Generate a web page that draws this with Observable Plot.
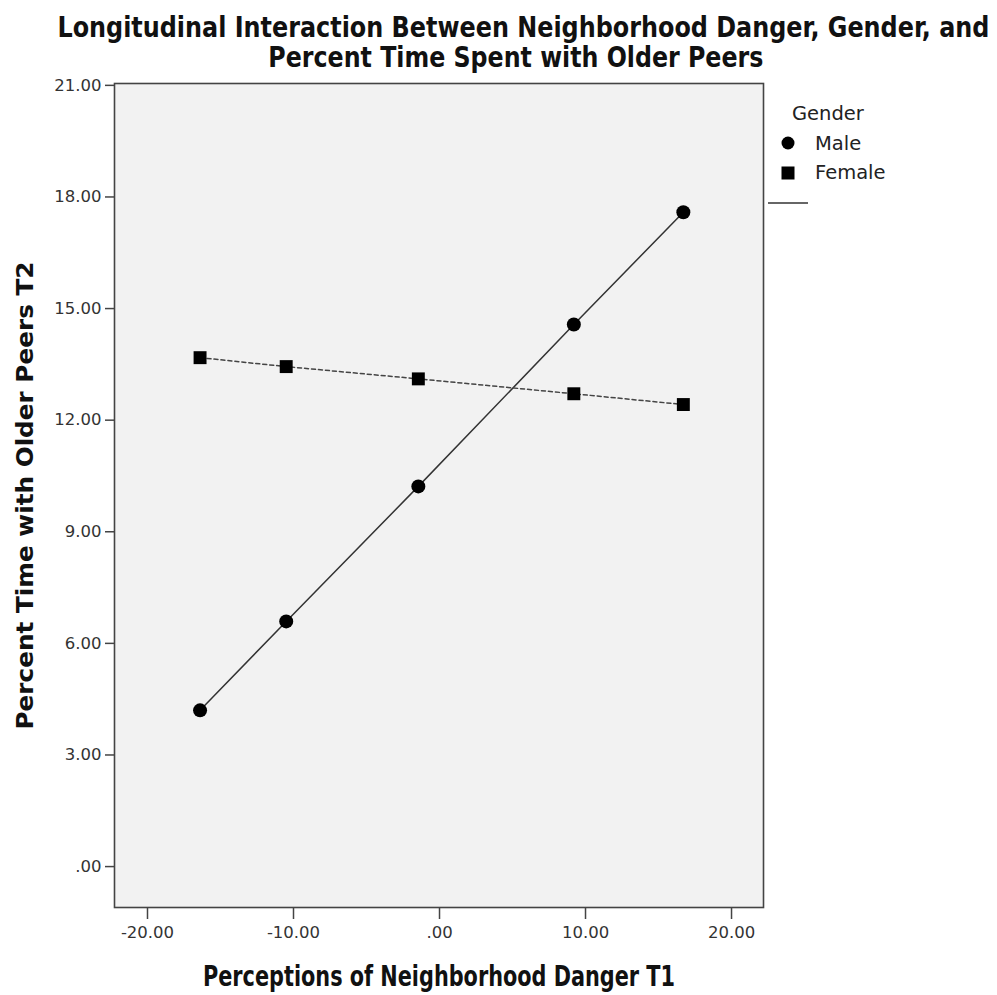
<!DOCTYPE html>
<html>
<head>
<meta charset="utf-8">
<script src="https://cdn.jsdelivr.net/npm/d3@7"></script>
<script src="https://cdn.jsdelivr.net/npm/@observablehq/plot@0.6"></script>
<style>
  html, body { margin: 0; padding: 0; background: #fff; }
  #wrap { position: relative; width: 997px; height: 995px; overflow: hidden; }
  #title { height: 70px; position: relative; font-family: "DejaVu Sans Condensed", "DejaVu Sans", sans-serif;
    font-weight: bold; font-size: 28px; color: #111; }
  #title .line { position: absolute; width: 2000px; text-align: center; white-space: nowrap; line-height: 28px; height: 28px; }
  #title .line span { display: inline-block; transform-origin: center; }
  #legend { position: absolute; left: 0; top: 0; width: 997px; height: 995px; pointer-events: none;
    font-family: "DejaVu Sans", sans-serif; color: #222; }
  #legend .t { position: absolute; font-size: 19.5px; line-height: 20px; white-space: nowrap; transform: translateY(-50%); }
  svg { display: block; }
</style>
</head>
<body>
<div id="wrap">
  <div id="title"></div>
  <div id="chart"></div>
  <div id="legend"></div>
</div>
<script>
// ---- data ----
const titleLines = ["Longitudinal Interaction Between Neighborhood Danger, Gender, and", "Percent Time Spent with Older Peers"];
const xLabel = "Perceptions of Neighborhood Danger T1";
const yLabel = "Percent Time with Older Peers T2";
const legendTitle = "Gender";
const genders = ["Male", "Female"];
const dangerX = [-16.4, -10.5, -1.45, 9.2, 16.7];
const maleY = [4.2, 6.59, 10.22, 14.57, 17.59];
const femaleY = [13.68, 13.44, 13.11, 12.71, 12.42];
const xTicks = [-20, -10, 0, 10, 20];
const yTicks = [0, 3, 6, 9, 12, 15, 18, 21];

const rows = [];
dangerX.forEach((x, i) => rows.push({gender: "Male", x, y: maleY[i]}));
dangerX.forEach((x, i) => rows.push({gender: "Female", x, y: femaleY[i]}));
const male = rows.filter(d => d.gender === "Male");
const female = rows.filter(d => d.gender === "Female");

// ---- title (condensed look: fit each line to the reference width) ----
const titleEl = document.getElementById("title");
const titleSpec = [{top: 14, width: 932, center: 523}, {top: 44, width: 495, center: 516}];
titleLines.forEach((t, i) => {
  const line = document.createElement("div");
  line.className = "line";
  line.style.top = titleSpec[i].top + "px";
  line.style.left = (titleSpec[i].center - 1000) + "px";
  const sp = document.createElement("span");
  sp.textContent = t;
  line.appendChild(sp);
  titleEl.appendChild(line);
  const w = sp.getBoundingClientRect().width;
  sp.style.transform = `scaleX(${titleSpec[i].width / w})`;
});

const fmt = d => d === 0 ? ".00" : d.toFixed(2);

const plot = Plot.plot({
  width: 997,
  height: 925,
  marginLeft: 114,
  marginRight: 234,
  marginTop: 13,
  marginBottom: 88,
  style: {fontFamily: "DejaVu Sans, sans-serif", fontSize: "16.5px", color: "#333", background: "white"},
  x: {domain: [-22.26, 22.19]},
  y: {domain: [-1.1, 21.05]},
  marks: [
    Plot.frame({fill: "#f2f2f2", stroke: null}),
    Plot.line(male, {x: "x", y: "y", stroke: "#333", strokeWidth: 1.5}),
    Plot.line(female, {x: "x", y: "y", stroke: "#444", strokeWidth: 1.5, strokeDasharray: "4,3"}),
    Plot.dot(male, {x: "x", y: "y", r: 7, symbol: "circle", fill: "#000", stroke: null}),
    Plot.dot(female, {x: "x", y: "y", r: 7.3, symbol: "square", fill: "#000", stroke: null}),
    Plot.frame({stroke: "#444", strokeWidth: 1.6}),
    Plot.axisX({ticks: xTicks, tickFormat: fmt, tickSize: 12, tickPadding: 7, label: null, stroke: "#444", strokeWidth: 1.5}),
    Plot.axisY({ticks: yTicks, tickFormat: fmt, tickSize: 9, tickPadding: 4, label: null, stroke: "#444", strokeWidth: 1.5}),
    Plot.text([xLabel], {frameAnchor: "bottom", dy: 70, textAnchor: "middle", lineAnchor: "middle",
      fontSize: 28, fontWeight: "bold", fontFamily: "DejaVu Sans Condensed, DejaVu Sans, sans-serif", fill: "#111",
      className: "xlabel"}),
    Plot.text([yLabel], {frameAnchor: "left", dx: -89, rotate: -90, textAnchor: "middle", lineAnchor: "middle",
      fontSize: 23, fontWeight: "bold", fontFamily: "DejaVu Sans, sans-serif", fill: "#111",
      className: "ylabel"})
  ]
});
document.getElementById("chart").appendChild(plot);
// fit the axis titles to the reference widths
d3.select(plot).selectAll(".xlabel text").attr("textLength", 472).attr("lengthAdjust", "spacingAndGlyphs");
d3.select(plot).selectAll(".ylabel text").attr("textLength", 468).attr("lengthAdjust", "spacingAndGlyphs");

// ---- legend ----
const leg = document.getElementById("legend");
function addText(txt, left, cy) {
  const d = document.createElement("div");
  d.className = "t"; d.textContent = txt;
  d.style.left = left + "px"; d.style.top = cy + "px";
  leg.appendChild(d);
}
addText(legendTitle, 792, 114);
addText(genders[0], 815, 144);
addText(genders[1], 815, 173);
const ns = "http://www.w3.org/2000/svg";
const ls = document.createElementNS(ns, "svg");
ls.setAttribute("width", 997); ls.setAttribute("height", 995);
ls.style.position = "absolute"; ls.style.left = "0"; ls.style.top = "0";
const c = document.createElementNS(ns, "circle");
c.setAttribute("cx", 788); c.setAttribute("cy", 143); c.setAttribute("r", 6.5); c.setAttribute("fill", "#000");
ls.appendChild(c);
const s = document.createElementNS(ns, "rect");
s.setAttribute("x", 781.5); s.setAttribute("y", 166.5); s.setAttribute("width", 13); s.setAttribute("height", 13); s.setAttribute("fill", "#000");
ls.appendChild(s);
const l = document.createElementNS(ns, "line");
l.setAttribute("x1", 768); l.setAttribute("x2", 808); l.setAttribute("y1", 203); l.setAttribute("y2", 203);
l.setAttribute("stroke", "#333"); l.setAttribute("stroke-width", 1.5);
ls.appendChild(l);
leg.appendChild(ls);
</script>
</body>
</html>
